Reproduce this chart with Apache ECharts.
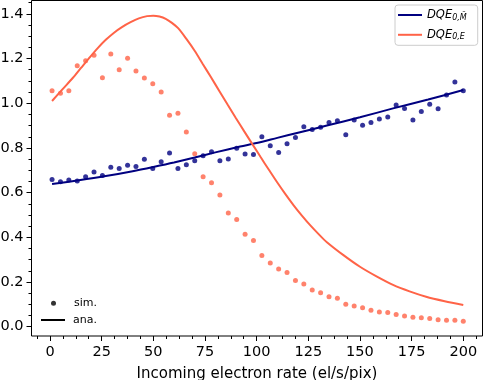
<!DOCTYPE html>
<html>
<head>
<meta charset="utf-8">
<title>DQE vs incoming electron rate</title>
<script src="https://cdn.jsdelivr.net/npm/echarts@6/dist/echarts.min.js"></script>
<style>
    html, body { margin: 0; padding: 0; background: #fff; }
    #chart1 { width: 484px; height: 380px; }
</style>
</head>
<body>
<div id="chart1"></div>
<script>
// rates of the simulated points (el/s/pix)
var simRate = [1, 5.06, 9.12, 13.18, 17.24, 21.31, 25.37, 29.43, 33.49, 37.55,
    41.61, 45.67, 49.73, 53.8, 57.86, 61.92, 65.98, 70.04, 74.1, 78.16,
    82.22, 86.29, 90.35, 94.41, 98.47, 102.53, 106.59, 110.65, 114.71, 118.78,
    122.84, 126.9, 130.96, 135.02, 139.08, 143.14, 147.2, 151.27, 155.33, 159.39,
    163.45, 167.51, 171.57, 175.63, 179.69, 183.76, 187.82, 191.88, 195.94, 200];

// simulated DQE, M~ (navy dots)
var simM = [0.659, 0.649, 0.656, 0.652, 0.671, 0.692, 0.676, 0.714, 0.708, 0.722,
    0.717, 0.749, 0.708, 0.738, 0.777, 0.708, 0.725, 0.743, 0.765, 0.783,
    0.743, 0.750, 0.799, 0.773, 0.770, 0.850, 0.810, 0.779, 0.819, 0.847,
    0.895, 0.883, 0.893, 0.914, 0.922, 0.859, 0.925, 0.902, 0.914, 0.929,
    0.938, 0.992, 0.977, 0.925, 0.963, 0.995, 0.975, 1.037, 1.095, 1.056];

// simulated DQE, E (orange dots)
var simE = [1.056, 1.045, 1.056, 1.168, 1.190, 1.215, 1.114, 1.221, 1.150, 1.201,
    1.144, 1.113, 1.087, 1.050, 0.946, 0.955, 0.871, 0.774, 0.671, 0.644,
    0.589, 0.509, 0.479, 0.413, 0.385, 0.318, 0.285, 0.258, 0.242, 0.206,
    0.191, 0.164, 0.152, 0.134, 0.127, 0.100, 0.092, 0.084, 0.073, 0.066,
    0.063, 0.054, 0.048, 0.042, 0.040, 0.036, 0.031, 0.028, 0.028, 0.024];

// analytic curves
var anaMRate = [1, 14, 27, 40, 50, 60, 70, 80, 92, 100, 110, 120, 134, 150, 166, 183, 200];
var anaM = [0.638, 0.655, 0.674, 0.696, 0.715, 0.735, 0.757, 0.780, 0.806, 0.822,
    0.845, 0.868, 0.900, 0.937, 0.977, 1.017, 1.059];

var anaERate = [1, 6, 11, 15, 19, 23, 27, 31, 35, 39, 43, 47, 50, 53, 56, 59, 62, 66,
    70, 74, 78, 82, 86, 90, 94, 98, 102, 106, 110, 114, 118, 122, 126, 130, 134,
    142, 150, 158, 166, 174, 182, 191, 200];
var anaE = [1.010, 1.062, 1.113, 1.158, 1.203, 1.246, 1.284, 1.316, 1.342, 1.363,
    1.380, 1.390, 1.392, 1.388, 1.378, 1.360, 1.336, 1.288, 1.235, 1.175,
    1.115, 1.054, 0.993, 0.933, 0.874, 0.816, 0.758, 0.701, 0.645, 0.592,
    0.542, 0.496, 0.453, 0.414, 0.378, 0.320, 0.268, 0.225, 0.187, 0.158,
    0.134, 0.114, 0.097];

// tick labels
var xTicks = [0, 25, 50, 75, 100, 125, 150, 175, 200];
var yTicks = [0, 0.2, 0.4, 0.6, 0.8, 1.0, 1.2, 1.4];

var NAVY = '#000080';
var TOMATO = '#ff6347';
var FONT = 'DejaVu Sans';

function pairs(xs, ys) {
    var d = [];
    for (var i = 0; i < xs.length; i++) {
        d.push([xs[i], ys[i]]);
    }
    return d;
}

// minor ticks, 4 subdivisions per major step
function minors(ticks) {
    var m = [];
    var step = (ticks[1] - ticks[0]) / 4;
    for (var i = 0; i < ticks.length - 1; i++) {
        for (var k = 1; k < 4; k++) {
            m.push(+(ticks[i] + k * step).toFixed(4));
        }
    }
    m.push(+(ticks[0] - step).toFixed(4));
    m.push(+(ticks[ticks.length - 1] + step).toFixed(4));
    return m;
}

var myChart1 = echarts.init(document.getElementById('chart1'), null, {renderer: 'canvas'});

var xMin = -8.95, xMax = 209.3;
var yMin = -0.042, yMax = 1.46;

var smallText = {fontFamily: FONT, fontSize: 11, lineHeight: 12, color: '#000'};

var option1 = {
    animation: false,
    textStyle: {fontFamily: FONT, color: '#000'},
    grid: {
        left: 31.5, right: 1.5, top: 0.5, bottom: 44,
        outerBoundsMode: 'none', containLabel: false,
        show: true, borderColor: '#000', borderWidth: 1
    },
    legend: [
        {
            orient: 'vertical',
            left: 395, top: 5,
            padding: [4, 11, 4, 3],
            itemWidth: 24, itemHeight: 2, itemGap: 7.3,
            backgroundColor: 'rgba(255,255,255,0.8)',
            borderColor: '#cccccc', borderWidth: 1, borderRadius: 3,
            data: [{name: 'DQE0M', icon: 'rect'}, {name: 'DQE0E', icon: 'rect'}],
            formatter: function (name) {
                if (name === 'DQE0M') return '{a|DQE}{b|0,M\u0303}';
                return '{a|DQE}{b|0,E}';
            },
            textStyle: {
                fontFamily: FONT,
                rich: {
                    a: {fontFamily: FONT, fontStyle: 'italic', fontSize: 11.5, lineHeight: 13, color: '#000'},
                    b: {fontFamily: FONT, fontStyle: 'italic', fontSize: 8, lineHeight: 13, verticalAlign: 'bottom', padding: [4, 0, 0, 0], color: '#000'}
                }
            }
        },
        {
            // sim. : dot
            orient: 'vertical', left: 51, top: 297.3, padding: 0,
            itemWidth: 5, itemHeight: 5,
            data: [{name: 'sim.', icon: 'circle'}],
            textStyle: echarts.util.extend({padding: [0, 0, 0, 13]}, smallText)
        },
        {
            // ana. : line
            orient: 'vertical', left: 41, top: 314, padding: 0,
            itemWidth: 24, itemHeight: 2,
            data: [{name: 'ana.', icon: 'rect'}],
            textStyle: echarts.util.extend({padding: [0, 0, 0, 3]}, smallText)
        }
    ],
    xAxis: [
        {
            type: 'value', min: xMin, max: xMax,
            name: 'Incoming electron rate (el/s/pix)',
            nameLocation: 'middle', nameGap: 31,
            nameTextStyle: {fontFamily: FONT, fontSize: 15, color: '#000'},
            axisLine: {show: false, onZero: false},
            axisTick: {show: true, length: 5, lineStyle: {color: '#000', width: 1}, customValues: xTicks},
            axisLabel: {
                customValues: xTicks, margin: 9,
                fontFamily: FONT, fontSize: 14.5, color: '#000',
                formatter: function (v) { return String(Math.round(v)); }
            },
            splitLine: {show: false}
        },
        {
            // minor ticks only
            type: 'value', min: xMin, max: xMax, position: 'bottom',
            axisLine: {show: false, onZero: false},
            axisTick: {show: true, length: 3, lineStyle: {color: '#000', width: 1}, customValues: minors(xTicks)},
            axisLabel: {show: false},
            splitLine: {show: false}
        }
    ],
    yAxis: [
        {
            type: 'value', min: yMin, max: yMax,
            axisLine: {show: false, onZero: false},
            axisTick: {show: true, length: 5, lineStyle: {color: '#000', width: 1}, customValues: yTicks},
            axisLabel: {
                customValues: yTicks, margin: 8,
                fontFamily: FONT, fontSize: 14.5, color: '#000',
                formatter: function (v) { return v.toFixed(1); }
            },
            splitLine: {show: false}
        },
        {
            type: 'value', min: yMin, max: yMax, position: 'left',
            axisLine: {show: false, onZero: false},
            axisTick: {show: true, length: 3, lineStyle: {color: '#000', width: 1}, customValues: minors(yTicks)},
            axisLabel: {show: false},
            splitLine: {show: false}
        }
    ],
    series: [
        {
            name: 'simM', type: 'scatter', symbolSize: 5,
            itemStyle: {color: NAVY},
            data: pairs(simRate, simM)
        },
        {
            name: 'simE', type: 'scatter', symbolSize: 5,
            itemStyle: {color: TOMATO},
            data: pairs(simRate, simE)
        },
        {
            name: 'DQE0M', type: 'line', symbol: 'none', smooth: 0.3,
            lineStyle: {color: NAVY, width: 2}, itemStyle: {color: NAVY},
            data: pairs(anaMRate, anaM)
        },
        {
            name: 'DQE0E', type: 'line', symbol: 'none', smooth: 0.3,
            lineStyle: {color: TOMATO, width: 2}, itemStyle: {color: TOMATO},
            data: pairs(anaERate, anaE)
        },
        // legend-only entries
        {name: 'sim.', type: 'scatter', itemStyle: {color: '#000'}, data: []},
        {name: 'ana.', type: 'line', symbol: 'none', lineStyle: {color: '#000', width: 2}, itemStyle: {color: '#000'}, data: []}
    ]
};

myChart1.setOption(option1);
</script>
</body>
</html>
